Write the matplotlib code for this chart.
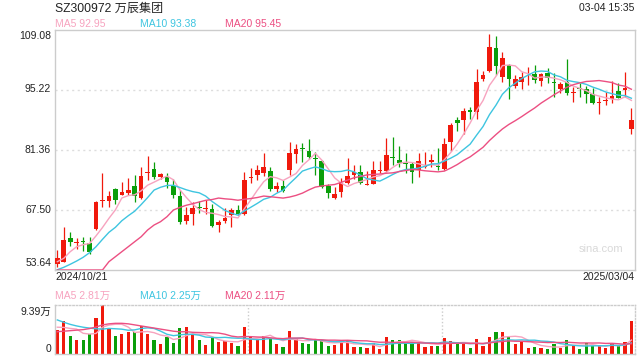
import matplotlib
matplotlib.use('Agg')
import matplotlib.pyplot as plt
import numpy as np
import pandas as pd

# 日K数据 2024/10/21 - 2025/03/04 (90 个交易日)
opens = [55.03, 55.60, 61.03, 59.88, 60.27, 59.95, 63.11, 69.65, 69.58, 72.35,
         71.03, 71.36, 73.04, 70.34, 76.12, 76.90, 75.01, 75.12, 73.04, 70.73,
         64.96, 66.58, 68.12, 67.66, 67.66, 64.15, 64.96, 66.35, 67.50, 66.69,
         74.82, 75.59, 76.04, 76.51, 72.35, 73.04, 76.81, 80.44, 81.82, 81.13,
         79.58, 78.82, 73.04, 70.34, 71.73, 73.80, 75.59, 76.21, 73.34, 73.51,
         76.58, 76.58, 79.58, 79.05, 78.19, 78.13, 76.67, 77.50, 78.59, 77.66,
         76.97, 83.28, 88.36, 88.36, 90.60, 90.07, 97.76, 99.68, 104.85, 98.15,
         100.99, 96.21, 97.14, 98.34, 98.92, 97.37, 99.08, 97.07, 95.38, 97.00,
         94.53, 95.52, 95.38, 94.29, 92.31, 92.61, 93.07, 94.99, 95.22, 86.21]
highs = [58.26, 63.64, 62.49, 61.03, 61.15, 61.33, 69.58, 75.98, 71.96, 72.51,
         73.97, 74.78, 75.59, 77.43, 79.97, 78.59, 76.16, 75.98, 74.55, 72.12,
         68.26, 69.35, 69.69, 69.81, 69.00, 65.19, 67.85, 67.85, 68.77, 76.35,
         77.13, 77.89, 80.78, 77.50, 74.04, 74.43, 83.21, 82.75, 82.91, 83.83,
         80.97, 79.05, 73.51, 72.88, 74.82, 79.51, 77.89, 77.96, 76.51, 78.89,
         78.82, 84.06, 84.43, 82.28, 80.74, 78.66, 80.74, 80.83, 80.44, 81.75,
         84.06, 87.60, 88.91, 90.99, 91.22, 100.07, 99.68, 108.16, 107.62, 104.07,
         101.22, 98.75, 99.45, 100.60, 100.99, 99.22, 100.23, 99.22, 97.14, 102.38,
         95.98, 96.91, 96.14, 95.61, 93.67, 94.83, 97.37, 96.91, 99.31, 90.99]
lows = [54.33, 55.49, 59.18, 58.49, 58.03, 57.34, 62.88, 68.19, 68.12, 69.00,
        70.95, 71.08, 69.35, 70.04, 74.43, 74.59, 74.66, 72.58, 70.20, 64.27,
        64.27, 64.15, 66.74, 66.58, 63.57, 62.53, 64.50, 63.57, 66.27, 66.35,
        73.74, 74.43, 75.35, 71.89, 71.59, 71.66, 75.59, 78.29, 78.52, 79.21,
        75.59, 72.58, 70.20, 70.04, 70.57, 73.51, 74.66, 73.51, 73.20, 73.44,
        75.98, 76.35, 77.89, 77.50, 76.12, 73.80, 75.19, 77.27, 77.50, 76.74,
        76.85, 81.20, 85.82, 85.06, 88.52, 88.52, 97.37, 99.31, 98.68, 97.14,
        93.14, 95.61, 95.45, 96.37, 96.77, 96.14, 96.77, 93.67, 94.60, 94.06,
        92.52, 93.67, 92.15, 91.99, 89.68, 91.75, 92.15, 93.30, 93.53, 85.06]
closes = [56.41, 60.57, 60.18, 60.11, 60.11, 57.87, 69.35, 69.81, 70.73, 69.81,
          71.66, 72.12, 70.73, 75.35, 76.28, 75.19, 75.82, 74.03, 71.08, 64.73,
          66.35, 67.89, 67.96, 67.80, 63.80, 64.73, 65.72, 67.50, 66.58, 74.43,
          74.96, 76.74, 77.50, 72.35, 73.11, 71.96, 80.60, 81.59, 81.66, 79.67,
          79.35, 72.88, 71.49, 71.19, 73.67, 75.35, 76.35, 73.80, 73.51, 76.74,
          76.74, 80.21, 79.44, 78.29, 78.06, 76.35, 78.75, 77.66, 79.05, 77.36,
          82.75, 87.13, 87.53, 90.44, 90.07, 97.14, 98.75, 105.08, 100.83, 102.54,
          97.76, 97.76, 98.29, 98.50, 97.53, 98.92, 97.92, 96.93, 96.61, 94.46,
          94.67, 95.38, 94.29, 92.29, 92.45, 92.75, 93.83, 93.44, 95.75, 88.29]
# 成交量 (万手)
volumes = [4.65, 6.36, 3.51, 2.75, 2.75, 3.89, 6.98, 9.39, 4.84, 3.51,
           3.89, 4.27, 4.27, 5.41, 3.89, 2.75, 1.99, 3.32, 2.18, 5.03,
           5.22, 3.89, 2.75, 1.80, 3.19, 2.37, 2.56, 2.18, 1.61, 5.22,
           3.32, 2.94, 3.51, 3.13, 1.99, 1.42, 4.46, 2.94, 2.18, 1.99,
           2.75, 2.75, 1.61, 1.80, 2.37, 2.75, 1.42, 1.42, 1.23, 2.18,
           1.04, 3.32, 2.75, 2.75, 2.18, 2.37, 2.37, 1.42, 1.61, 1.61,
           3.13, 2.56, 1.99, 1.99, 1.23, 2.94, 1.61, 3.32, 4.27, 4.27,
           3.32, 1.99, 2.56, 1.23, 1.42, 1.23, 1.04, 1.99, 1.23, 2.75,
           1.61, 1.04, 2.18, 1.61, 1.61, 1.23, 1.99, 1.61, 2.37, 6.36]

# 区间开始前的均线值
ma5_head = [55.56, 56.34, 57.87, 59.02]
ma10_head = [53.70, 54.26, 54.96, 55.72, 56.57, 57.64, 59.02, 60.72, 62.34]
ma20_head = [53.64, 53.64, 53.64, 53.64, 53.64, 53.64, 53.64, 53.64, 55.56, 56.71,
             57.87, 59.02, 60.18, 61.33, 62.88, 64.03, 64.80, 65.95, 67.50]
vma5_head = [5.16, 5.12, 4.93, 4.80]
vma10_head = [6.54, 6.10, 5.70, 5.40, 5.16, 4.99, 4.86, 4.80, 4.93]
vma20_head = [4.30, 4.40, 4.50, 4.60, 4.70, 4.90, 5.20, 5.60, 5.80, 5.90,
              5.90, 5.80, 5.60, 5.40, 5.20, 5.00, 4.80, 4.60, 4.40]

price_ticks = [109.08, 95.22, 81.36, 67.50, 53.64]
date_labels = ['2024/10/21', '2025/03/04']

RED = '#f0190c'
GREEN = '#0a9e0a'
C_MA5 = '#f7a3bf'
C_MA10 = '#3ec5e0'
C_MA20 = '#ec4f82'
FONT = ['Liberation Sans', 'Noto Sans CJK SC']


def moving_avg(values, n, head):
    s = pd.Series(values).rolling(n).mean().to_numpy()
    s[:n - 1] = head
    return s


x = np.arange(len(closes))
o = np.array(opens)
c = np.array(closes)
colors = [RED if cc >= oo else GREEN for oo, cc in zip(o, c)]

fig = plt.figure(figsize=(6.4, 3.6), dpi=100)
W, H = 640, 360
ax = fig.add_axes([55 / W, 90 / H, 580 / W, 240 / H])
axv = fig.add_axes([55 / W, 5.7 / H, 580 / W, 49.3 / H])

xlim = (-0.36, 89.56)

# ===== K线 =====
for lv in price_ticks[1:-1]:
    ax.axhline(lv, color='#dddddd', lw=1.0, ls=(0, (1.5, 2.5)), zorder=0)
ax.vlines(x, lows, highs, colors=colors, lw=0.9, zorder=2)
body = np.maximum(np.abs(c - o), 0.2)
ax.bar(x, body, bottom=np.minimum(o, c), width=0.72, color=colors, zorder=3)

ax.plot(x, moving_avg(closes, 5, ma5_head), color=C_MA5, lw=1.0, zorder=4)
ax.plot(x, moving_avg(closes, 10, ma10_head), color=C_MA10, lw=1.0, zorder=4)
ax.plot(x, moving_avg(closes, 20, ma20_head), color=C_MA20, lw=1.0, zorder=4)

ax.set_xlim(*xlim)
ax.set_ylim(53.64, 109.08)
ax.set_xticks([])
ax.set_yticks([])
for sp in ax.spines.values():
    sp.set_color('#cccccc')
    sp.set_linewidth(1.0)

# ===== 成交量 =====
for xv in [29.6, 59.6]:
    axv.axvline(xv, color='#cccccc', lw=1.0, ls=(0, (1, 1.5)), zorder=0)
axv.bar(x, volumes, width=0.5, color=colors, zorder=2)
axv.plot(x, moving_avg(volumes, 5, vma5_head), color=C_MA5, lw=1.0, zorder=3)
axv.plot(x, moving_avg(volumes, 10, vma10_head), color=C_MA10, lw=1.0, zorder=3)
axv.plot(x, moving_avg(volumes, 20, vma20_head), color=C_MA20, lw=1.0, zorder=3)
axv.set_xlim(*xlim)
axv.set_ylim(0, 9.39)
axv.set_xticks([])
axv.set_yticks([])
for name, sp in axv.spines.items():
    sp.set_color('#cccccc')
    sp.set_linewidth(1.0)
    if name in ('top', 'right'):
        sp.set_linestyle((0, (1, 1.5)))


def px_text(px, py, s, **kw):
    kw.setdefault('family', FONT)
    fig.text(px / W, 1 - py / H, s, **kw)


# 标题和均线图例
px_text(55, 8.5, 'SZ300972 万辰集团', fontsize=8.7, color='#222222', va='center')
px_text(634, 8, '03-04 15:35', fontsize=7.5, color='#222222', va='center', ha='right')
ma5 = moving_avg(closes, 5, ma5_head)[-1]
ma10 = moving_avg(closes, 10, ma10_head)[-1]
ma20 = moving_avg(closes, 20, ma20_head)[-1]
px_text(55, 24, 'MA5 92.95', fontsize=7.5, color=C_MA5, va='center')
px_text(140, 24, 'MA10 93.38', fontsize=7.5, color=C_MA10, va='center')
px_text(225, 24, 'MA20 95.45', fontsize=7.5, color=C_MA20, va='center')

# 价格刻度
tick_y = [36, 89.5, 149.5, 209.5, 263.5]
for v, ty in zip(price_ticks, tick_y):
    px_text(51, ty, f'{v:.2f}', fontsize=7.5, color='#222222', va='center', ha='right')

px_text(55, 277.5, date_labels[0], fontsize=7.5, color='#222222', va='center')
px_text(634, 277.5, date_labels[1], fontsize=7.5, color='#222222', va='center', ha='right')
px_text(623, 249, 'sina.com', fontsize=8, color='#d9d9d9', va='center', ha='right')

px_text(55, 295.5, 'MA5 2.81万', fontsize=7.5, color=C_MA5, va='center')
px_text(140, 295.5, 'MA10 2.25万', fontsize=7.5, color=C_MA10, va='center')
px_text(225, 295.5, 'MA20 2.11万', fontsize=7.5, color=C_MA20, va='center')
px_text(51, 311.5, '9.39万', fontsize=7.5, color='#222222', va='center', ha='right')
px_text(51, 349, '0', fontsize=7.5, color='#222222', va='center', ha='right')

fig.savefig('out.png', dpi=100)
